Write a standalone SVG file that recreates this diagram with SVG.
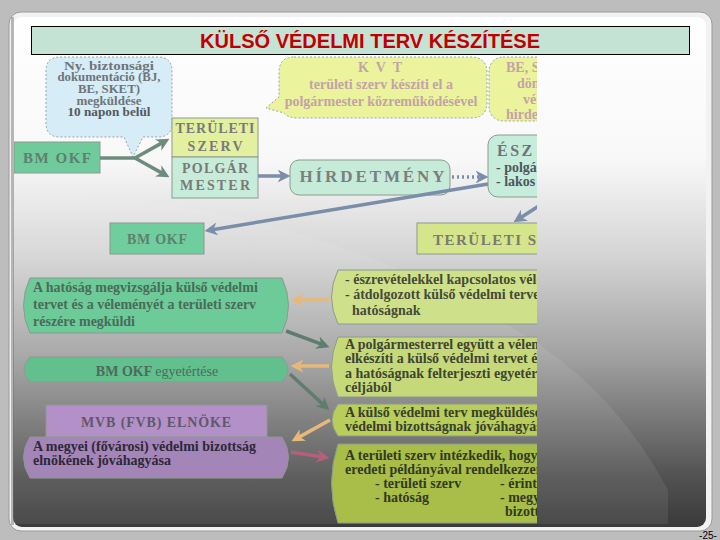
<svg xmlns="http://www.w3.org/2000/svg" width="720" height="540" viewBox="0 0 720 540">
<defs>
<linearGradient id="bg" x1="0" y1="0" x2="0" y2="1">
<stop offset="0" stop-color="#ffffff"/>
<stop offset="0.28" stop-color="#f8f8f8"/>
<stop offset="0.47" stop-color="#d4d4d4"/>
<stop offset="0.67" stop-color="#a0a0a0"/>
<stop offset="0.9" stop-color="#525252"/>
<stop offset="1" stop-color="#3a3a3a"/>
</linearGradient>
<clipPath id="clip"><rect x="14" y="55" width="523" height="470"/></clipPath>
<marker id="aG" viewBox="0 0 10 10" refX="5" refY="5" markerUnits="userSpaceOnUse" markerWidth="13" markerHeight="13" orient="auto"><path d="M0,0 L10,5 L0,10 L3,5 Z" fill="#6e8c7e"/></marker>
<marker id="aB" viewBox="0 0 10 10" refX="5" refY="5" markerUnits="userSpaceOnUse" markerWidth="13" markerHeight="13" orient="auto"><path d="M0,0 L10,5 L0,10 L3,5 Z" fill="#7b8ea9"/></marker>
<marker id="aO" viewBox="0 0 10 10" refX="5" refY="5" markerUnits="userSpaceOnUse" markerWidth="13" markerHeight="13" orient="auto"><path d="M0,0 L10,5 L0,10 L3,5 Z" fill="#e6b97a"/></marker>
<marker id="aD" viewBox="0 0 10 10" refX="5" refY="5" markerUnits="userSpaceOnUse" markerWidth="13" markerHeight="13" orient="auto"><path d="M0,0 L10,5 L0,10 L3,5 Z" fill="#5f7d6f"/></marker>
<marker id="aR" viewBox="0 0 10 10" refX="5" refY="5" markerUnits="userSpaceOnUse" markerWidth="13" markerHeight="13" orient="auto"><path d="M0,0 L10,5 L0,10 L3,5 Z" fill="#b4607a"/></marker>
</defs>
<style>
.t{font-family:"Liberation Serif","Times New Roman",serif;font-weight:bold;}
.c{text-anchor:middle;}
.box{stroke:#8c9a90;stroke-width:1;}
.dash{stroke:#9aa4a8;stroke-width:1;stroke-dasharray:2,2;}
.ln{fill:none;stroke-width:3.5;}
</style>
<rect x="0" y="0" width="720" height="540" fill="#bdbdbd"/>
<rect x="9" y="12" width="703" height="519" rx="12" fill="#f2f2f2" stroke="#9a9a9a" stroke-width="1"/>
<rect x="13" y="17" width="693" height="510" rx="9" fill="url(#bg)"/>
<path d="M14,190 Q320,200 540,345 Q620,400 668,490 L668,524 L14,524 Z" fill="#ffffff" opacity="0.08"/>
<rect x="11" y="17" width="3" height="508" fill="#777" opacity="0.5"/>

<g id="title">
<rect x="31.5" y="26.5" width="658" height="28" fill="#c5e3d5" stroke="#000" stroke-width="1"/>
<text x="370" y="48" font-family="Liberation Sans, Arial, sans-serif" font-weight="bold" font-size="21" fill="#c00000" text-anchor="middle" textLength="340" lengthAdjust="spacingAndGlyphs">KÜLSŐ VÉDELMI TERV KÉSZÍTÉSE</text>
</g>

<g clip-path="url(#clip)">
<g id="callout-nybizt">
<path class="dash" d="M60,57 H158 Q172,57 172,71 V123 Q172,137 158,137 H143 L133,157 L124,137 H60 Q46,137 46,123 V71 Q46,57 60,57 Z" fill="#d6ecf6"/>
<g class="t c" font-size="11.5" fill="#6f7579">
<text x="109" y="69.5" textLength="90" lengthAdjust="spacingAndGlyphs">Ny. biztonsági</text>
<text x="109" y="81.2" textLength="103" lengthAdjust="spacingAndGlyphs">dokumentáció (BJ,</text>
<text x="109" y="92.9" textLength="62" lengthAdjust="spacingAndGlyphs">BE, SKET)</text>
<text x="109" y="104.6" textLength="65" lengthAdjust="spacingAndGlyphs">megküldése</text>
<text x="109" y="116.3" fill="#55595c" textLength="83" lengthAdjust="spacingAndGlyphs">10 napon belül</text>
</g>
</g>

<g id="callout-kvt">
<path class="dash" d="M294,57 H471 Q487,57 487,73 V102 Q487,118 471,118 H298 Q288,118 284,113 L266,108 L279,97 V73 Q279,57 294,57 Z" fill="#ebf39c"/>
<g class="t c" fill="#c3a3a7">
<text x="380" y="72" font-size="14" textLength="44">KVT</text>
<text x="381" y="89" font-size="14">területi szerv készíti el a</text>
<text x="381" y="106" font-size="14">polgármester közreműködésével</text>
</g>
</g>

<g id="callout-be">
<rect class="dash" x="489" y="57" width="100" height="64" rx="14" fill="#ebf39c"/>
<g class="t" font-size="14" fill="#c3a3a7">
<text x="506" y="72">BE, S</text>
<text x="517" y="88">dön</text>
<text x="523" y="104">vé</text>
<text x="506" y="119">hirde</text>
</g>
</g>

<g id="bmokf1">
<rect class="box" x="14" y="142" width="86" height="31" fill="#6fcb9c"/>
<text class="t c" x="57" y="163" font-size="15" fill="#5f8070" textLength="68">BM OKF</text>
</g>

<g id="teruleti-szerv">
<rect class="box" x="172" y="118" width="86" height="39" fill="#e3f0a0"/>
<g class="t c" font-size="14" fill="#7a7a7a">
<text x="215" y="133" textLength="79">TERÜLETI</text>
<text x="215" y="151" textLength="55">SZERV</text>
</g>
</g>

<g id="polgarmester">
<rect class="box" x="172" y="157" width="86" height="41" fill="#c7ecd9"/>
<g class="t c" font-size="14" fill="#7a7a7a">
<text x="215" y="173" textLength="66">POLGÁR</text>
<text x="215" y="190" textLength="70">MESTER</text>
</g>
</g>

<g id="hirdetmeny">
<rect class="box" x="290" y="160" width="160" height="35" rx="9" fill="#c6ebd9"/>
<text class="t c" x="372" y="182" font-size="17" fill="#7a8080" textLength="145">HÍRDETMÉNY</text>
</g>

<g id="esz">
<rect class="box" x="488" y="135" width="90" height="62" rx="10" fill="#c6eddc"/>
<text class="t" x="497" y="156" font-size="16" fill="#6e7476" letter-spacing="2.5">ÉSZ</text>
<g class="t" font-size="14" fill="#4e565c">
<text x="496" y="172">- polgá</text>
<text x="496" y="186">- lakos</text>
</g>
</g>

<g id="bmokf2">
<rect class="box" x="110" y="223" width="94" height="31" fill="#6fcd9e"/>
<text class="t c" x="157" y="244" font-size="14" fill="#5f8070" textLength="60">BM OKF</text>
</g>

<g id="teruleti-sz">
<rect class="box" x="417" y="223" width="130" height="31" fill="#d5e58c"/>
<text class="t" x="433" y="245" font-size="15" fill="#7a7a72" letter-spacing="1.5">TERÜLETI SZ</text>
</g>

<g id="hatosag">
<path class="box" d="M30,278 H282 Q295,305.5 282,333 H30 Q17,305.5 30,278 Z" fill="#6ccb98"/>
<g class="t" font-size="14" fill="#4b6a5a">
<text x="33" y="292">A hatóság megvizsgálja külső védelmi</text>
<text x="33" y="309">tervet és a véleményét a területi szerv</text>
<text x="33" y="326">részére megküldi</text>
</g>
</g>

<g id="eszrevetel">
<path class="box" d="M338,270 H548 V324 H338 Q325,297 338,270 Z" fill="#cfe08a"/>
<g class="t" font-size="14" fill="#454b38">
<text x="345" y="284">- észrevételekkel kapcsolatos vélemény</text>
<text x="345" y="299">- átdolgozott külső védelmi terve</text>
<text x="352" y="315">hatóságnak</text>
</g>
</g>

<g id="polgarmesterrel">
<path class="box" d="M338,337 H548 V397 H338 Q325,367 338,337 Z" fill="#c6d97a"/>
<g class="t" font-size="14" fill="#3f4532">
<text x="345" y="349">A polgármesterrel együtt a vélemény</text>
<text x="345" y="363">elkészíti a külső védelmi tervet és</text>
<text x="345" y="378">a hatóságnak felterjeszti egyetértés</text>
<text x="345" y="392">céljából</text>
</g>
</g>

<g id="bmokf-egyet">
<path class="box" d="M30,357 H282 Q294,369.5 282,382 H30 Q18,369.5 30,357 Z" fill="#62c08e"/>
<text class="t c" x="157" y="376" font-size="14" fill="#4c6a5c">BM OKF <tspan font-weight="normal">egyetértése</tspan></text>
</g>

<g id="megkuldes">
<path class="box" d="M338,404 H548 V436 H338 Q326,420 338,404 Z" fill="#b8cd5a"/>
<g class="t" font-size="14" fill="#3a402c">
<text x="345" y="417">A külső védelmi terv megküldése</text>
<text x="345" y="431">védelmi bizottságnak jóváhagyásra</text>
</g>
</g>

<g id="mvb">
<rect class="box" x="46" y="405" width="221" height="32" fill="#b490c8"/>
<text class="t c" x="156" y="427" font-size="14" fill="#5e5868" textLength="150">MVB (FVB) ELNÖKE</text>
</g>

<g id="megyei">
<path class="box" d="M30,437 H282 Q295,457 282,478 H30 Q17,457 30,437 Z" fill="#a385b8"/>
<g class="t" font-size="14" fill="#2e2838">
<text x="33" y="451">A megyei (fővárosi) védelmi bizottság</text>
<text x="33" y="465">elnökének jóváhagyása</text>
</g>
</g>

<g id="intezkedik">
<path class="box" d="M338,444 H548 V523 H338 Q325,483 338,444 Z" fill="#a8be48"/>
<g class="t" font-size="14" fill="#333a24">
<text x="345" y="460">A területi szerv intézkedik, hogy</text>
<text x="345" y="474">eredeti példányával rendelkezzen</text>
<text x="375" y="488">- területi szerv</text>
<text x="500" y="488">- érint</text>
<text x="375" y="502">- hatóság</text>
<text x="500" y="502">- megy</text>
<text x="505" y="516">bizotts</text>
</g>
</g>

<g id="connectors">
<path class="ln" d="M100,158 H135" stroke="#6e8c7e"/>
<path class="ln" d="M135,158 L163.8,141.9" stroke="#6e8c7e" marker-end="url(#aG)"/>
<path class="ln" d="M135,158 L163.8,174.1" stroke="#6e8c7e" marker-end="url(#aG)"/>
<path class="ln" d="M258,176 L284,176" stroke="#7b8ea9" stroke-width="3" marker-end="url(#aB)"/>
<path class="ln" d="M452,177 L482,177" stroke="#7b8ea9" stroke-width="3" stroke-dasharray="2,3" marker-end="url(#aB)"/>
<path class="ln" d="M488,184 L210.9,230" stroke="#7b8ea9" stroke-width="3" marker-end="url(#aB)"/>
<path class="ln" d="M542,204 L519,218.7" stroke="#7b8ea9" stroke-width="3" marker-end="url(#aB)"/>
<path class="ln" d="M329,300 L297,300" stroke="#e6b97a" stroke-width="4" marker-end="url(#aO)"/>
<path class="ln" d="M286,331 L323.4,344.9" stroke="#5f7d6f" marker-end="url(#aD)"/>
<path class="ln" d="M329,366 L297,366" stroke="#e6b97a" stroke-width="4" marker-end="url(#aO)"/>
<path class="ln" d="M290,374 L324.6,405.9" stroke="#5f7d6f" marker-end="url(#aD)"/>
<path class="ln" d="M330,420 L297.2,438.1" stroke="#e6b97a" stroke-width="4" marker-end="url(#aO)"/>
<path class="ln" d="M291,452 L323.1,457.1" stroke="#b4607a" marker-end="url(#aR)"/>
</g>
</g>

<text x="708" y="539" font-family="Liberation Sans, Arial, sans-serif" font-size="10" text-anchor="middle" fill="#000">-25-</text>
</svg>
